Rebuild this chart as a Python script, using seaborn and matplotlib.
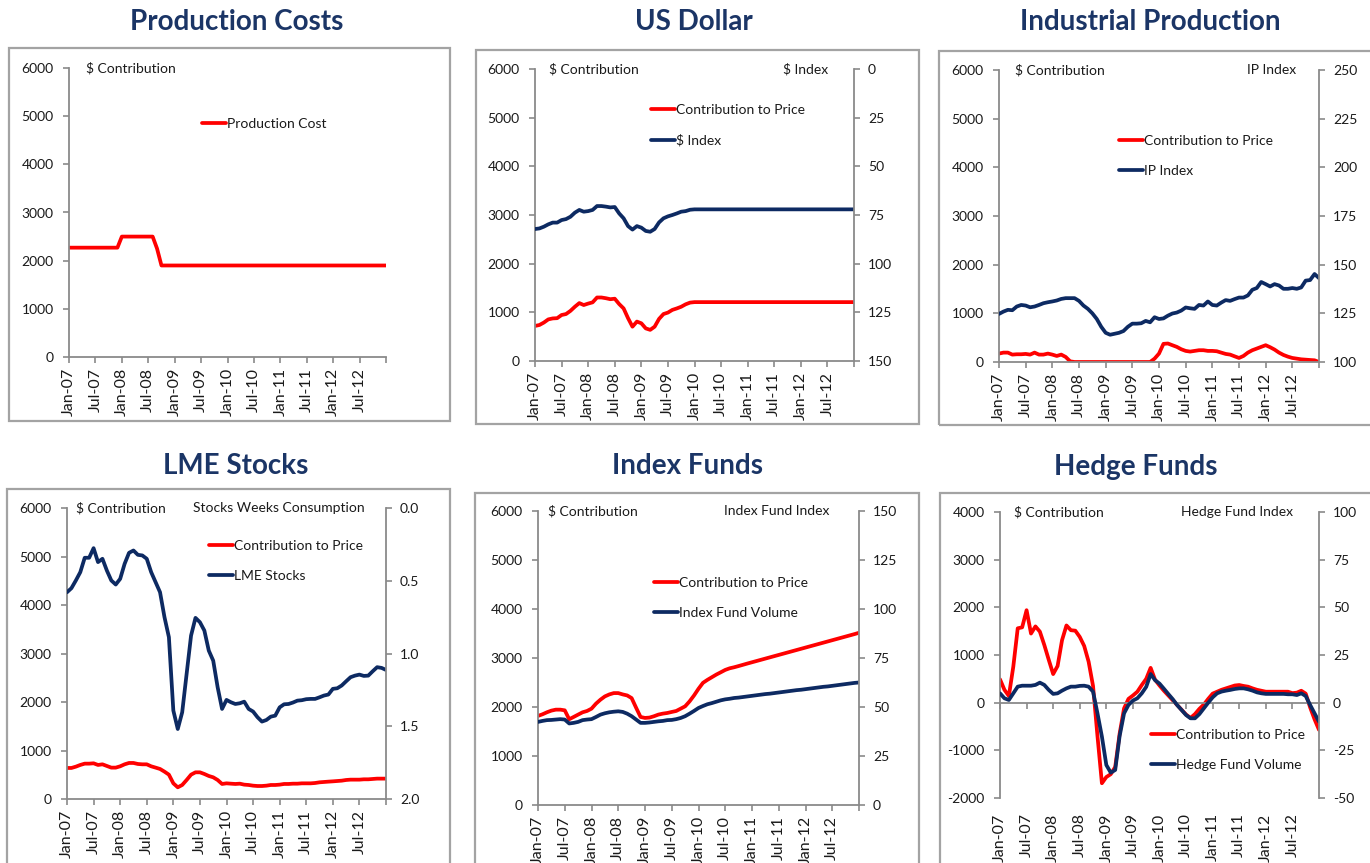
import numpy as np
import pandas as pd
import matplotlib
matplotlib.use("Agg")
import matplotlib.pyplot as plt
import seaborn as sns
from matplotlib.patches import Rectangle

# ---------------- data ----------------
months = pd.date_range("2007-01-01", periods=73, freq="MS")
month_idx = np.arange(len(months))
tick_pos = month_idx[::6]
tick_labels = [m.strftime("%b-%y") for m in months[::6][:-1]] + [""]

production_cost = [
    2270, 2270, 2270, 2270, 2270, 2270, 2270, 2270, 2270, 2270,
    2270, 2270, 2500, 2500, 2500, 2500, 2500, 2500, 2500, 2500,
    2250, 1900, 1900, 1900, 1900, 1900, 1900, 1900, 1900, 1900,
    1900, 1900, 1900, 1900, 1900, 1900, 1900, 1900, 1900, 1900,
    1900, 1900, 1900, 1900, 1900, 1900, 1900, 1900, 1900, 1900,
    1900, 1900, 1900, 1900, 1900, 1900, 1900, 1900, 1900, 1900,
    1900, 1900, 1900, 1900, 1900, 1900, 1900, 1900, 1900, 1900,
    1900, 1900, 1900,
]

usd_contribution = [
    720, 740, 790, 855, 875, 880, 945, 965, 1030, 1115,
    1190, 1150, 1180, 1205, 1305, 1305, 1290, 1270, 1280, 1170,
    1080, 880, 705, 810, 775, 670, 640, 705, 865, 965,
    995, 1050, 1080, 1115, 1165, 1200, 1210, 1210, 1210, 1210,
    1210, 1210, 1210, 1210, 1210, 1210, 1210, 1210, 1210, 1210,
    1210, 1210, 1210, 1210, 1210, 1210, 1210, 1210, 1210, 1210,
    1210, 1210, 1210, 1210, 1210, 1210, 1210, 1210, 1210, 1210,
    1210, 1210, 1210,
]
usd_index = [
    82.2, 81.9, 81.0, 79.8, 78.9, 78.9, 77.6, 77.1, 75.9, 73.8,
    72.4, 73.3, 73.0, 72.4, 70.4, 70.4, 70.7, 71.1, 70.9, 74.2,
    76.7, 80.7, 82.5, 80.7, 81.5, 83.2, 83.6, 82.2, 78.8, 76.7,
    75.7, 75.0, 74.2, 73.3, 73.0, 72.3, 72.1, 72.1, 72.1, 72.1,
    72.1, 72.1, 72.1, 72.1, 72.1, 72.1, 72.1, 72.1, 72.1, 72.1,
    72.1, 72.1, 72.1, 72.1, 72.1, 72.1, 72.1, 72.1, 72.1, 72.1,
    72.1, 72.1, 72.1, 72.1, 72.1, 72.1, 72.1, 72.1, 72.1, 72.1,
    72.1, 72.1, 72.1,
]

ip_contribution = [
    173, 193, 193, 152, 159, 159, 166, 152, 193, 152,
    152, 173, 152, 124, 152, 104, 14, 0, 0, 0,
    0, 0, 0, 0, 0, 0, 0, 0, 0, 0,
    0, 0, 0, 0, 0, 69, 173, 373, 380, 345,
    311, 262, 228, 214, 228, 242, 242, 228, 228, 221,
    193, 166, 152, 117, 83, 124, 193, 242, 276, 311,
    345, 304, 255, 193, 145, 110, 83, 69, 55, 48,
    41, 35, 0,
]
ip_index = [
    124.7, 125.9, 126.8, 126.6, 128.5, 129.3, 129.0, 128.1, 128.5, 129.3,
    130.2, 130.7, 131.1, 131.6, 132.4, 132.8, 132.8, 132.8, 131.4, 129.0,
    127.3, 125.0, 122.1, 118.1, 115.0, 114.0, 114.5, 115.0, 115.9, 118.1,
    119.7, 119.7, 119.9, 121.1, 120.4, 123.0, 122.1, 122.4, 123.8, 124.9,
    125.4, 126.4, 128.0, 127.6, 127.3, 129.3, 129.0, 131.1, 129.3, 129.0,
    130.5, 131.8, 131.4, 132.3, 133.1, 133.1, 134.2, 137.1, 138.0, 141.1,
    140.0, 138.8, 140.0, 139.3, 137.6, 137.6, 138.0, 137.6, 138.3, 141.8,
    142.1, 145.2, 143.1,
]

lme_contribution = [
    640, 640, 667, 702, 729, 729, 736, 702, 715, 681,
    647, 647, 674, 715, 743, 743, 722, 715, 715, 674,
    647, 619, 564, 502, 323, 241, 289, 392, 502, 550,
    550, 516, 475, 447, 392, 310, 323, 316, 310, 316,
    296, 289, 275, 268, 268, 275, 289, 289, 296, 310,
    310, 316, 316, 323, 323, 323, 330, 344, 351, 358,
    364, 371, 378, 392, 399, 399, 399, 406, 406, 413,
    420, 420, 420,
]
lme_weeks = [
    0.579, 0.551, 0.498, 0.441, 0.342, 0.342, 0.276, 0.372, 0.349, 0.430,
    0.498, 0.526, 0.487, 0.384, 0.308, 0.292, 0.322, 0.326, 0.349, 0.441,
    0.510, 0.579, 0.750, 0.888, 1.392, 1.519, 1.404, 1.140, 0.877, 0.755,
    0.785, 0.842, 0.980, 1.049, 1.232, 1.381, 1.319, 1.335, 1.347, 1.342,
    1.331, 1.381, 1.399, 1.438, 1.468, 1.457, 1.434, 1.427, 1.370, 1.349,
    1.347, 1.337, 1.324, 1.321, 1.314, 1.312, 1.312, 1.301, 1.289, 1.282,
    1.243, 1.239, 1.220, 1.191, 1.163, 1.152, 1.145, 1.154, 1.152, 1.122,
    1.094, 1.099, 1.113,
]

index_contribution = [
    1818, 1851, 1892, 1926, 1946, 1946, 1932, 1750, 1797, 1845,
    1892, 1919, 1966, 2068, 2149, 2216, 2257, 2284, 2284, 2257,
    2236, 2182, 1986, 1797, 1777, 1784, 1811, 1845, 1865, 1878,
    1899, 1919, 1966, 2014, 2115, 2236, 2372, 2493, 2554, 2608,
    2662, 2709, 2757, 2790, 2811, 2836, 2862, 2888, 2913, 2938,
    2963, 2988, 3013, 3038, 3063, 3088, 3113, 3138, 3163, 3188,
    3213, 3238, 3263, 3288, 3313, 3338, 3363, 3388, 3413, 3438,
    3463, 3488, 3515,
]
index_volume = [
    42.4, 42.9, 43.3, 43.4, 43.6, 43.8, 43.6, 41.6, 41.9, 42.4,
    43.3, 43.6, 43.8, 44.9, 46.1, 46.8, 47.3, 47.6, 47.8, 47.5,
    46.6, 45.3, 43.6, 41.9, 41.9, 42.1, 42.4, 42.7, 42.9, 43.3,
    43.4, 43.8, 44.4, 45.3, 46.6, 48.0, 49.5, 50.5, 51.4, 52.0,
    52.7, 53.4, 53.9, 54.2, 54.6, 54.8, 55.1, 55.4, 55.7, 56.0,
    56.3, 56.6, 56.8, 57.1, 57.4, 57.7, 58.0, 58.3, 58.6, 58.8,
    59.1, 59.4, 59.7, 60.0, 60.3, 60.5, 60.8, 61.1, 61.4, 61.7,
    62.0, 62.3, 62.5,
]

hedge_contribution = [
    490, 270, 140, 755, 1560, 1580, 1940, 1450, 1600, 1490,
    1210, 900, 600, 770, 1310, 1620, 1520, 1510, 1380, 1190,
    860, 350, -700, -1690, -1560, -1500, -1350, -650, -120, 80,
    150, 230, 370, 500, 730, 480, 360, 250, 150, 50,
    -50, -150, -250, -320, -240, -130, -40, 80, 190, 230,
    270, 300, 330, 360, 370, 350, 335, 300, 270, 250,
    230, 230, 230, 230, 230, 230, 200, 210, 250, 190,
    -100, -350, -570,
]
hedge_volume = [
    4.9, 2.3, 1.4, 4.9, 8.4, 8.9, 8.9, 8.9, 9.3, 10.5,
    9.3, 6.7, 4.6, 4.9, 6.3, 7.5, 8.4, 8.4, 8.8, 8.9,
    8.4, 5.8, -5.6, -17.8, -32.7, -36.7, -35.3, -17.5, -5.6, -1.2,
    1.1, 2.3, 4.9, 8.3, 15.0, 11.8, 10.0, 7.3, 4.5, 1.8,
    -1.3, -3.9, -6.5, -8.2, -8.2, -6.0, -3.0, 0.0, 2.8, 4.9,
    5.8, 6.3, 6.7, 7.2, 7.5, 7.5, 7.0, 6.3, 5.4, 4.9,
    4.6, 4.6, 4.6, 4.6, 4.6, 4.4, 4.4, 4.0, 4.9, 3.5,
    -1.2, -5.6, -10.0,
]

# ---------------- style ----------------
sns.set_style("white")
plt.rcParams["font.family"] = ["Lato", "DejaVu Sans"]

W, H = 1370, 863
fig = plt.figure(figsize=(W / 100, H / 100), dpi=100)

RED = "#FF0000"
NAVY = "#0D2A62"
GRAY = "#8A8A8A"
TITLE = "#1B3566"
TXT = "#1A1A1A"
FS = 10
XFS = 11.5
LW = 2.7


def px_rect(l, t, r, b):
    return [l / W, 1 - b / H, (r - l) / W, (b - t) / H]


def box(l, t, r, b):
    fig.add_artist(Rectangle((l / W, 1 - b / H), (r - l) / W, (b - t) / H,
                             transform=fig.transFigure, fill=False,
                             ec="#A3A3A3", lw=1.6))


def title(text, cx, cy):
    fig.text(cx / W, 1 - cy / H, text, ha="center", va="center",
             fontsize=20, fontweight="bold", color=TITLE)


def line(ax, values, color, label):
    df = pd.DataFrame({"month": month_idx, "value": values})
    sns.lineplot(data=df, x="month", y="value", ax=ax, color=color,
                 lw=LW, label=label, legend=False)
    ax.set_xlabel("")
    ax.set_ylabel("")


def panel(rect, bx, ttl, ttl_xy, left_lim, left_ticks, red, red_label,
          blue=None, blue_label=None, right_lim=None, right_ticks=None,
          right_fmt="{:g}", right_title=None, right_title_x=None,
          leg_px=None, zero_axis=False, left_title_x=0.05):
    box(*bx)
    title(ttl, *ttl_xy)
    ax = fig.add_axes(px_rect(*rect))
    ax.patch.set_alpha(0)
    line(ax, red, RED, red_label)
    ax.set_xlim(0, 72)
    ax.set_ylim(*left_lim)
    ax.set_yticks(left_ticks)
    ax.set_yticklabels([f"{v:g}" for v in left_ticks])
    for s in ["top", "right"]:
        ax.spines[s].set_visible(False)
    for s in ["left", "bottom"]:
        ax.spines[s].set_color(GRAY)
        ax.spines[s].set_linewidth(1.3)
    ax.tick_params(axis="y", left=True, direction="out", length=4, width=1.2,
                   color=GRAY, pad=7, labelsize=FS, labelcolor=TXT)
    ax.set_xticks(tick_pos)
    if zero_axis:
        ax.spines["bottom"].set_position(("data", 0))
        ax.tick_params(axis="x", bottom=True, direction="out", length=4,
                       width=1.2, color=GRAY, labelbottom=False)
        sec = ax.secondary_xaxis("bottom")
        sec.set_xticks(tick_pos)
        sec.set_xticklabels(tick_labels, rotation=90)
        sec.tick_params(axis="x", length=0, pad=11, labelsize=XFS,
                        labelcolor=TXT)
        sec.spines["bottom"].set_visible(False)
    else:
        ax.set_xticklabels(tick_labels, rotation=90)
        ax.tick_params(axis="x", bottom=True, direction="out", length=4,
                       width=1.2, color=GRAY, pad=4, labelsize=XFS,
                       labelcolor=TXT)
    ax.text(left_title_x, 1.0, "$ Contribution", transform=ax.transAxes,
            ha="left", va="center", fontsize=FS, color=TXT)

    handles = [ax.get_lines()[0]]
    labels = [red_label]
    leg_ax = ax
    if blue is not None:
        ax2 = ax.twinx()
        line(ax2, blue, NAVY, blue_label)
        ax2.set_xlim(0, 72)
        ax2.set_ylim(*right_lim)
        ax2.set_yticks(right_ticks)
        ax2.set_yticklabels([right_fmt.format(v) for v in right_ticks])
        for s in ["top", "left", "bottom"]:
            ax2.spines[s].set_visible(False)
        ax2.spines["right"].set_color(GRAY)
        ax2.spines["right"].set_linewidth(1.3)
        ax2.tick_params(axis="y", right=True, direction="out", length=4,
                        width=1.2, color=GRAY, pad=6, labelsize=FS,
                        labelcolor=TXT)
        handles.append(ax2.get_lines()[0])
        labels.append(blue_label)
        ax.text(right_title_x, 1.0, right_title, transform=ax.transAxes,
                ha="right", va="center", fontsize=FS, color=TXT)
        leg_ax = ax2
    hx, cy = leg_px
    leg_ax.legend(handles, labels, loc="upper left",
                  bbox_to_anchor=(hx / W, 1 - (cy - 5) / H),
                  bbox_transform=fig.transFigure, frameon=False,
                  borderpad=0, borderaxespad=0, handlelength=1.75,
                  handletextpad=0.05, labelspacing=1.3, fontsize=FS,
                  labelcolor=TXT)
    return ax


panel((69, 68, 386, 357), (9, 48, 450, 421), "Production Costs", (237, 22),
      (0, 6000), list(range(0, 6001, 1000)), production_cost,
      "Production Cost", leg_px=(202, 123), left_title_x=0.054)

panel((535, 69, 854, 361), (476, 50, 919, 424), "US Dollar", (694, 22),
      (0, 6000), list(range(0, 6001, 1000)), usd_contribution,
      "Contribution to Price", usd_index, "$ Index",
      right_lim=(150, 0), right_ticks=list(range(0, 151, 25)),
      right_title="$ Index", right_title_x=0.918, leg_px=(651, 109),
      left_title_x=0.044)

panel((999, 70, 1319, 362), (939, 51, 1375, 425), "Industrial Production",
      (1150, 22), (0, 6000), list(range(0, 6001, 1000)), ip_contribution,
      "Contribution to Price", ip_index, "IP Index",
      right_lim=(100, 250), right_ticks=list(range(100, 251, 25)),
      right_title="IP Index", right_title_x=0.928, leg_px=(1119, 140),
      left_title_x=0.05)

panel((67, 508, 386, 799), (7, 489, 450, 875), "LME Stocks", (236, 466),
      (0, 6000), list(range(0, 6001, 1000)), lme_contribution,
      "Contribution to Price", lme_weeks, "LME Stocks",
      right_lim=(2.0, 0.0), right_ticks=[0.0, 0.5, 1.0, 1.5, 2.0],
      right_fmt="{:.1f}", right_title="Stocks Weeks Consumption",
      right_title_x=0.934, leg_px=(209, 545), left_title_x=0.028)

panel((538, 511, 859, 805), (475, 493, 919, 875), "Index Funds", (687, 466),
      (0, 6000), list(range(0, 6001, 1000)), index_contribution,
      "Contribution to Price", index_volume, "Index Fund Volume",
      right_lim=(0, 150), right_ticks=list(range(0, 151, 25)),
      right_title="Index Fund Index", right_title_x=0.907,
      leg_px=(654, 582), left_title_x=0.031)

panel((1000, 512, 1319, 798), (940, 493, 1375, 875), "Hedge Funds",
      (1136, 467), (-2000, 4000), list(range(-2000, 4001, 1000)),
      hedge_contribution, "Contribution to Price", hedge_volume,
      "Hedge Fund Volume", right_lim=(-50, 100),
      right_ticks=list(range(-50, 101, 25)), right_title="Hedge Fund Index",
      right_title_x=0.918, leg_px=(1151, 734), zero_axis=True,
      left_title_x=0.044)

fig.savefig("out.png", dpi=100)
